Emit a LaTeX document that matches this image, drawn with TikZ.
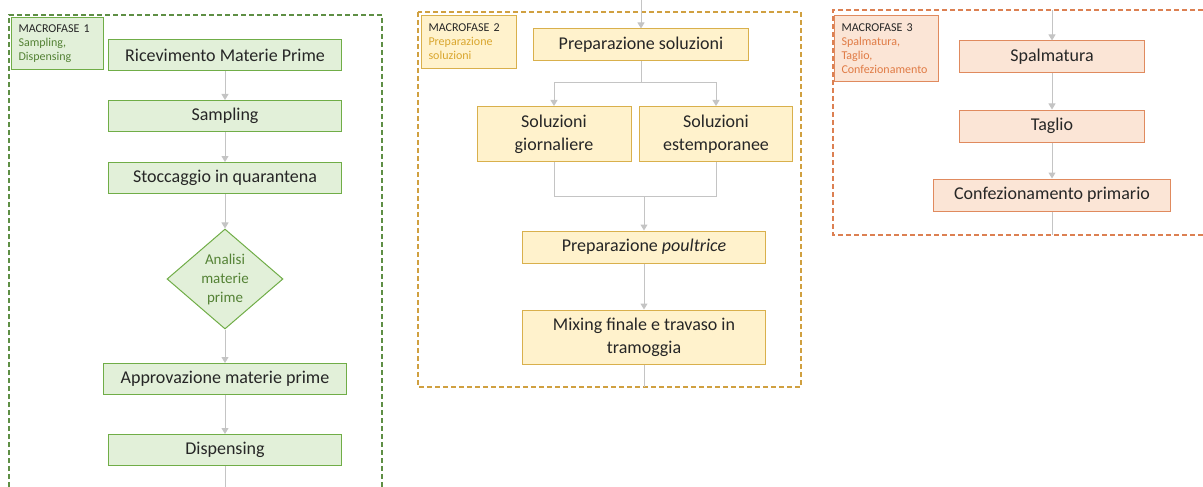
\documentclass[tikz,border=0pt]{standalone}
\usepackage{fontspec}
\setmainfont{Carlito}
\usetikzlibrary{arrows.meta, positioning, shapes.geometric}
\definecolor{grfill}{HTML}{E2F0D9}
\definecolor{grline}{HTML}{70AD47}
\definecolor{grdash}{HTML}{5E8F45}
\definecolor{grtext}{HTML}{548235}
\definecolor{ylfill}{HTML}{FFF2CC}
\definecolor{ylline}{HTML}{D9B04C}
\definecolor{yldash}{HTML}{D0A040}
\definecolor{yltext}{HTML}{D9A62E}
\definecolor{orfill}{HTML}{FBE5D6}
\definecolor{orline}{HTML}{E08A5E}
\definecolor{ordash}{HTML}{DC8052}
\definecolor{ortext}{HTML}{E07B45}
\definecolor{dktext}{HTML}{262626}
\definecolor{conngray}{HTML}{C4C4C4}

\begin{document}
\begin{tikzpicture}[x=1pt, y=-1pt,
  >={Triangle[length=6pt, width=7pt]},
  box/.style 2 args={
    draw=#1, line width=1pt, fill=#2,
    minimum width=233pt, minimum height=31pt,
    font=\fontsize{18}{23}\selectfont, text=dktext, align=center, inner sep=2pt},
  tag/.style 2 args={
    draw=#1, line width=1pt, fill=#2, anchor=north west,
    font=\fontsize{12}{14}\selectfont, align=left, inner xsep=7pt, inner ysep=5pt},
  frame/.style={draw=#1, line width=1.1pt, dash pattern=on 5pt off 3pt},
  arr/.style={->, conngray, line width=1pt},
  conn/.style={conngray, line width=1pt},
]
\useasboundingbox (0,0) rectangle (1203,487);
\clip (0,0) rectangle (1203,487);

% === MACROFASE 1: Sampling, Dispensing (green) ===
\draw[frame=grdash] (9,487) -- (9,15) -- (382,15) -- (382,487);
\node[tag={grline}{grfill}, text=grtext, text width=78pt, minimum height=52pt]
  (tag1) at (11,17) {\textcolor{dktext}{MACROFASE 1}\\Sampling,\\Dispensing};

\node[box={grline}{grfill}] (ricev) at (225,55) {Ricevimento Materie Prime};
\node[box={grline}{grfill}] (sampl) at (225,116) {Sampling};
\node[box={grline}{grfill}] (stocc) at (225,178) {Stoccaggio in quarantena};
\node[diamond, draw=grline, line width=1pt, fill=grfill, aspect=1.16, inner sep=0pt,
  minimum width=116pt, minimum height=100pt,
  font=\fontsize{15}{19}\selectfont, text=grtext, align=center]
  (anali) at (225,279) {Analisi\\materie\\prime};
\node[box={grline}{grfill}, minimum width=243pt] (appro) at (225,379) {Approvazione materie prime};
\node[box={grline}{grfill}] (dispe) at (225,450) {Dispensing};
\coordinate (out1) at (225,487);

\draw[arr] (ricev) -- (sampl);
\draw[arr] (sampl) -- (stocc);
\draw[arr] (stocc) -- (anali);
\draw[arr] (anali) -- (appro);
\draw[arr] (appro) -- (dispe);
\draw[conn] (dispe) -- (out1);

% === MACROFASE 2: Preparazione soluzioni (yellow) ===
\draw[frame=yldash] (418,12) rectangle (801,387);
\node[tag={ylline}{ylfill}, text=yltext, text width=81pt, minimum height=53pt]
  (tag2) at (421,15) {\textcolor{dktext}{MACROFASE 2}\\Preparazione\\soluzioni};

\coordinate (in2) at (641,0);
\node[box={ylline}{ylfill}, minimum width=215pt, minimum height=32pt] (prep) at (641,45) {Preparazione soluzioni};
\node[box={ylline}{ylfill}, minimum width=154pt, minimum height=55pt] (giorn) at (554,134) {Soluzioni\\giornaliere};
\node[box={ylline}{ylfill}, minimum width=153pt, minimum height=55pt] (estem) at (716,134) {Soluzioni\\estemporanee};
\node[box={ylline}{ylfill}, minimum width=243pt, minimum height=32pt] (poult) at (644,247) {Preparazione \emph{poultrice}};
\node[box={ylline}{ylfill}, minimum width=243pt, minimum height=54pt] (mixin) at (644,337) {Mixing finale e travaso in\\tramoggia};
\coordinate (split) at (641,83);
\coordinate (merge) at (644,196);
\coordinate (out2) at (644,387);

\draw[arr] (in2) -- (prep);
\draw[conn] (prep) -- (split);
\draw[arr] (split) -| (giorn);
\draw[arr] (split) -| (estem);
\draw[conn] (giorn) |- (merge);
\draw[conn] (estem) |- (merge);
\draw[arr] (merge) -- (poult);
\draw[arr] (poult) -- (mixin);
\draw[conn] (mixin) -- (out2);

% === MACROFASE 3: Spalmatura, Taglio, Confezionamento (orange) ===
\draw[frame=ordash] (1203,10) -- (833,10) -- (833,235) -- (1203,235);
\node[tag={orline}{orfill}, text=ortext, text width=90pt, minimum height=66pt]
  (tag3) at (834,15) {\textcolor{dktext}{MACROFASE 3}\\Spalmatura,\\Taglio,\\Confezionamento};

\coordinate (in3) at (1052,10);
\node[box={orline}{orfill}, minimum width=185pt, minimum height=32pt] (spalm) at (1052,57) {Spalmatura};
\node[box={orline}{orfill}, minimum width=185pt, minimum height=32pt] (tagli) at (1052,126) {Taglio};
\node[box={orline}{orfill}, minimum width=237pt, minimum height=32pt] (confe) at (1052,195) {Confezionamento primario};
\coordinate (out3) at (1052,235);

\draw[arr] (in3) -- (spalm);
\draw[arr] (spalm) -- (tagli);
\draw[arr] (tagli) -- (confe);
\draw[conn] (confe) -- (out3);

\end{tikzpicture}
\end{document}
